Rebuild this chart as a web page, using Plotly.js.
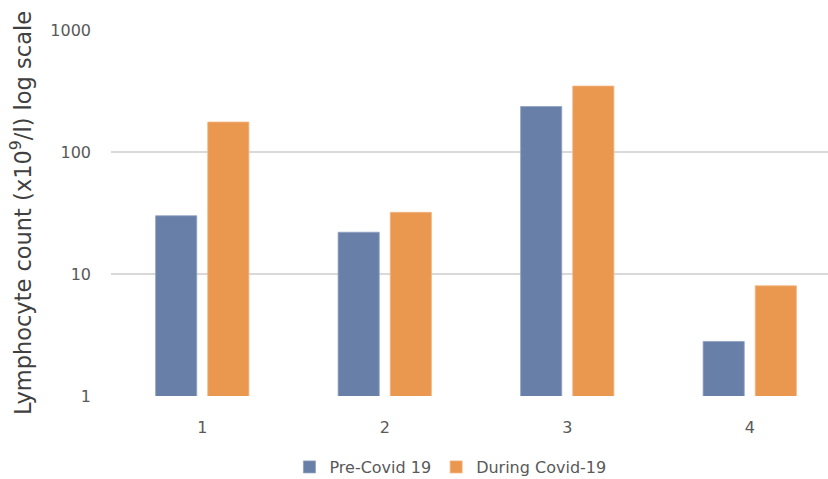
<!DOCTYPE html>
<html>
<head>
<meta charset="utf-8">
<script src="https://cdn.plot.ly/plotly-3.0.1.min.js"></script>
<style>html,body{margin:0;padding:0;overflow:hidden;background:#fff;}#chart{width:842px;height:479px;}</style>
</head>
<body>
<div id="chart"></div>
<script>
const categories = ['1', '2', '3', '4'];
const preCovid = [30, 22, 236, 2.8];
const duringCovid = [176, 32, 347, 8];
const seriesNames = ['Pre-Covid 19', 'During Covid-19'];
const tickVals = [1, 10, 100, 1000];
const tickText = ['1', '10', '100', '1000'];

const traces = [
  {type: 'bar', name: seriesNames[0], x: categories, y: preCovid,
   marker: {color: '#687FA8', line: {color: '#8EA0C2', width: 0.8}}},
  {type: 'bar', name: seriesNames[1], x: categories, y: duringCovid,
   marker: {color: '#EA9750', line: {color: '#F2B47F', width: 0.8}}}
];

const layout = {
  width: 842, height: 479,
  margin: {l: 111, r: 1, t: 30, b: 83, autoexpand: false},
  paper_bgcolor: '#fff', plot_bgcolor: '#fff',
  font: {family: 'DejaVu Sans, sans-serif', color: '#595959', size: 16},
  barmode: 'group', bargap: 0.4286, bargroupgap: 0.2115,
  showlegend: true,
  legend: {orientation: 'h', x: 0.465, xanchor: 'center', y: -0.194, yanchor: 'middle',
           font: {size: 16, color: '#595959'}, itemwidth: 30, tracegroupgap: 0},
  xaxis: {type: 'category', showgrid: false, zeroline: false, showline: false,
          ticks: '', ticklabelstandoff: 20, tickfont: {size: 16, color: '#595959'}, automargin: false},
  yaxis: {type: 'log', range: [0, 3], tickvals: tickVals, ticktext: tickText,
          showgrid: true, gridcolor: '#D9D9D9', gridwidth: 1.3, zeroline: false, showline: false,
          ticks: '', ticklen: 0, ticklabelstandoff: 19, tickfont: {size: 16, color: '#595959'}, automargin: false,
          title: {text: 'Lymphocyte count (x10<sup>9</sup>/l) log scale', font: {size: 22.5, color: '#404040'}, standoff: 12}}
};

Plotly.newPlot('chart', traces, layout, {displayModeBar: false, staticPlot: true});
</script>
</body>
</html>
